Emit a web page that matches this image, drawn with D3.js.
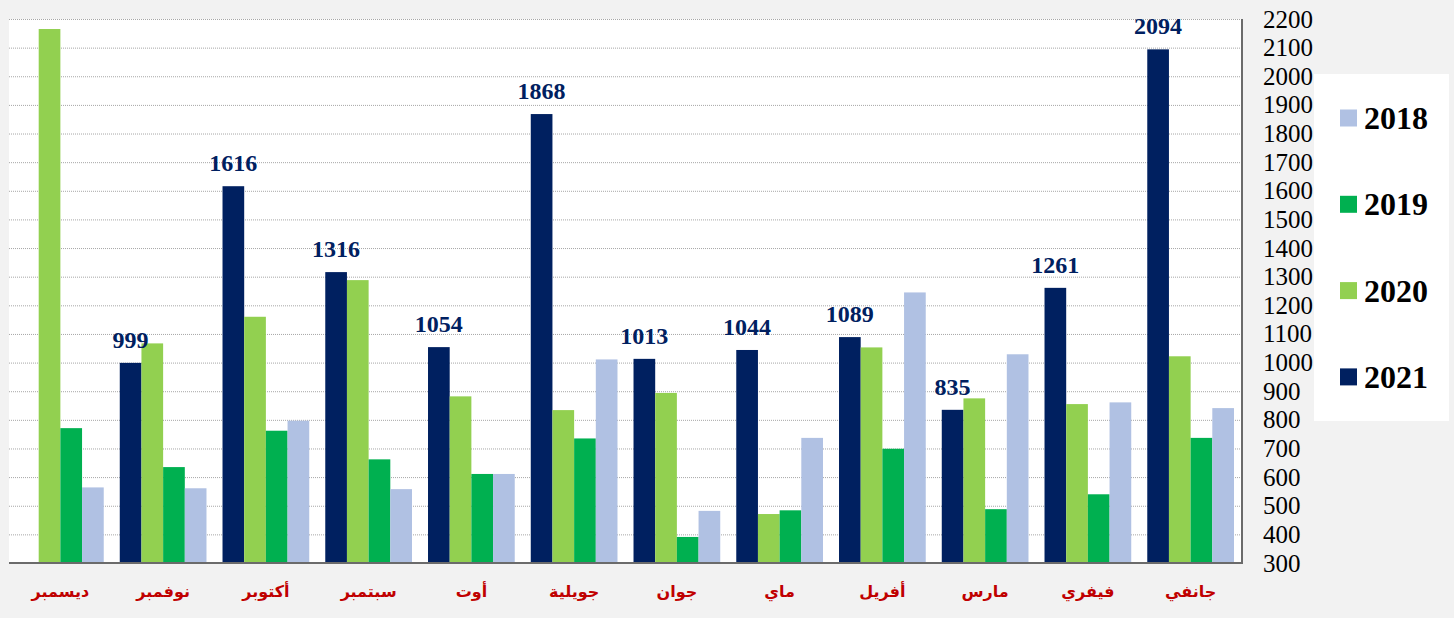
<!DOCTYPE html>
<html>
<head>
<meta charset="utf-8">
<script src="https://cdn.jsdelivr.net/npm/d3@7"></script>
<style>
  body { margin: 0; background: #f2f2f2; }
  svg { display: block; }
</style>
</head>
<body>
<svg id="chart" width="1454" height="618"></svg>
<script>
// months, january first (drawn right to left)
var months = ["جانفي", "فيفري", "مارس", "أفريل", "ماي", "جوان",
              "جويلية", "أوت", "سبتمبر", "أكتوبر", "نوفمبر", "ديسمبر"];
var years = ["2021", "2020", "2019", "2018"];

var v2021 = [2094, 1261, 835, 1089, 1044, 1013, 1868, 1054, 1316, 1616, 999, null];
var v2020 = [1022, 855, 875, 1053, 471, 894, 834, 882, 1288, 1160, 1067, 2165];
var v2019 = [737, 540, 488, 699, 484, 391, 735, 611, 662, 762, 635, 771];
var v2018 = [841, 861, 1029, 1245, 737, 482, 1011, 611, 558, 797, 561, 564];

var yTicks = d3.range(300, 2201, 100);

var colors = {"2021": "#002060", "2020": "#92d050", "2019": "#00b050", "2018": "#b0c1e3"};
var series = {"2021": v2021, "2020": v2020, "2019": v2019, "2018": v2018};

var svg = d3.select("#chart");
// plot box (note: "top" is taken by window.top)
var plotL = 9, plotR = 1242, plotT = 19, plotB = 563;

var x = d3.scaleBand()
    .domain(months.slice().reverse())
    .range([plotL, plotR])
    .paddingInner(0.156)
    .paddingOuter(0.078);
var xSub = d3.scaleBand().domain(years).range([0, x.bandwidth()]);
var y = d3.scaleLinear().domain([300, 2200]).range([plotB, plotT]);

// plot background
svg.append("rect")
    .attr("x", plotL).attr("y", plotT)
    .attr("width", plotR - plotL).attr("height", plotB - plotT)
    .attr("fill", "white");

// gridlines
svg.append("g")
    .selectAll("line")
    .data(yTicks.slice(1))
    .join("line")
    .attr("x1", plotL).attr("x2", plotR)
    .attr("y1", d => y(d) + 0.5).attr("y2", d => y(d) + 0.5)
    .attr("stroke", "#a6a6a6")
    .attr("stroke-width", 1)
    .attr("stroke-dasharray", "1,1");

// bars
var groups = svg.append("g")
    .selectAll("g")
    .data(months)
    .join("g")
    .attr("transform", d => "translate(" + x(d) + ",0)");

groups.selectAll("rect")
    .data((m, i) => years.map(yr => ({year: yr, value: series[yr][i]})).filter(d => d.value != null))
    .join("rect")
    .attr("x", d => xSub(d.year))
    .attr("width", xSub.bandwidth())
    .attr("y", d => y(d.value))
    .attr("height", d => plotB - y(d.value))
    .attr("fill", d => colors[d.year]);

// value labels on 2021
svg.append("g")
    .selectAll("text")
    .data(months.map((m, i) => ({month: m, value: v2021[i]})).filter(d => d.value != null))
    .join("text")
    .attr("x", d => x(d.month) + xSub("2021") + xSub.bandwidth() / 2)
    .attr("y", d => y(d.value) - 15)
    .attr("text-anchor", "middle")
    .attr("font-family", "'Times New Roman', 'Liberation Serif', serif")
    .attr("font-weight", "bold")
    .attr("font-size", 24)
    .attr("fill", "#002060")
    .text(d => d.value);

// axes lines
svg.append("line")
    .attr("x1", plotL).attr("x2", plotR + 1)
    .attr("y1", plotB).attr("y2", plotB)
    .attr("stroke", "#6b6b6b").attr("stroke-width", 2);
svg.append("line")
    .attr("x1", plotR).attr("x2", plotR)
    .attr("y1", plotT).attr("y2", plotB)
    .attr("stroke", "#6b6b6b").attr("stroke-width", 2);

// right axis labels
var yAxis = d3.axisRight(y).tickValues(yTicks).tickSize(0).tickPadding(0).tickFormat(d3.format("d"));
var ya = svg.append("g")
    .attr("transform", "translate(1263,0)")
    .call(yAxis);
ya.select(".domain").remove();
ya.selectAll("text")
    .attr("font-family", "'Times New Roman', 'Liberation Serif', serif")
    .attr("font-size", 25)
    .attr("fill", "#000");

// month labels
var xAxis = d3.axisBottom(x).tickSize(0).tickPadding(0);
var xa = svg.append("g")
    .attr("transform", "translate(0,597)")
    .call(xAxis);
xa.select(".domain").remove();
xa.selectAll("text")
    .attr("dy", 0)
    .attr("font-family", "'DejaVu Sans', sans-serif")
    .attr("font-weight", "bold")
    .attr("font-size", 16)
    .attr("fill", "#c00000");

// legend
var legendYears = ["2018", "2019", "2020", "2021"];
svg.append("rect")
    .attr("x", 1314).attr("y", 74)
    .attr("width", 135).attr("height", 347)
    .attr("fill", "white");
var leg = svg.append("g")
    .selectAll("g")
    .data(legendYears)
    .join("g")
    .attr("transform", (d, i) => "translate(1340," + (118 + i * 86.3) + ")");
leg.append("rect")
    .attr("x", 0).attr("y", -8.5)
    .attr("width", 17).attr("height", 17)
    .attr("fill", d => colors[d]);
leg.append("text")
    .attr("x", 24).attr("y", 11)
    .attr("font-family", "'Times New Roman', 'Liberation Serif', serif")
    .attr("font-weight", "bold")
    .attr("font-size", 32)
    .attr("fill", "#000")
    .text(d => d);
</script>
</body>
</html>
